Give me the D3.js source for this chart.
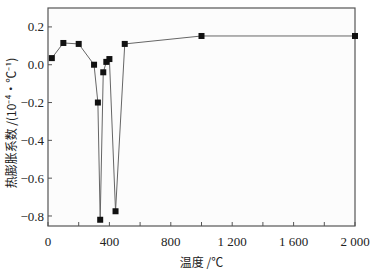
<!DOCTYPE html>
<html>
<head>
<meta charset="utf-8">
<script src="https://cdn.jsdelivr.net/npm/d3@7"></script>
<style>
  body { margin: 0; background: #fff; }
  text { fill: #222; }
</style>
</head>
<body>
<div id="chart"></div>
<script>
// temperature (℃) and thermal expansion coefficient (10^-4 / ℃)
let temps = [25, 100, 200, 300, 325, 340, 360, 380, 400, 440, 500, 1000, 2000]
let coeffs = [0.035, 0.115, 0.11, 0.0, -0.2, -0.82, -0.04, 0.015, 0.03, -0.775, 0.11, 0.152, 0.152]

let xTicks = [0, 200, 400, 600, 800, 1000, 1200, 1400, 1600, 1800, 2000]
let xLabelTicks = [0, 400, 800, 1200, 1600, 2000]
let xTickLabels = ['0', '400', '800', '1 200', '1 600', '2 000']
let yTicks = [0.2, 0.0, -0.2, -0.4, -0.6, -0.8]

let margin = {top: 8, right: 23, bottom: 48, left: 48},
  width = 378 - margin.left - margin.right,
  height = 274 - margin.top - margin.bottom

let svg = d3
  .select('#chart')
  .append('svg')
  .attr('width', 378)
  .attr('height', 274)

let g = svg
  .append('g')
  .attr('transform', 'translate(' + margin.left + ',' + margin.top + ')')

let x = d3.scaleLinear().domain([0, 2000]).range([0, width])
let y = d3.scaleLinear().domain([-0.853, 0.3]).range([height, 0])

g.append('rect')
  .attr('width', width)
  .attr('height', height)
  .attr('fill', '#fcfcfc')
  .attr('stroke', '#555')
  .attr('stroke-width', 1.2)

// x ticks (inward)
g.append('g')
  .selectAll('line')
  .data(xTicks)
  .enter()
  .append('line')
  .attr('x1', d => x(d))
  .attr('x2', d => x(d))
  .attr('y1', height)
  .attr('y2', height - 4)
  .attr('stroke', '#555')

g.append('g')
  .selectAll('text')
  .data(xLabelTicks)
  .enter()
  .append('text')
  .attr('x', d => x(d))
  .attr('y', height + 20)
  .attr('text-anchor', 'middle')
  .style('font-family', '"Liberation Serif", serif')
  .style('font-size', '13px')
  .text((d, i) => xTickLabels[i])

// y ticks (inward)
g.append('g')
  .selectAll('line')
  .data(yTicks)
  .enter()
  .append('line')
  .attr('x1', 0)
  .attr('x2', 4)
  .attr('y1', d => y(d))
  .attr('y2', d => y(d))
  .attr('stroke', '#555')

let fmt = d3.format('.1f')
g.append('g')
  .selectAll('text')
  .data(yTicks)
  .enter()
  .append('text')
  .attr('x', -4)
  .attr('y', d => y(d))
  .attr('dy', '0.35em')
  .attr('text-anchor', 'end')
  .style('font-family', '"Liberation Serif", serif')
  .style('font-size', '13px')
  .text(d => fmt(d))

// line
let pts = temps.map((t, i) => [t, coeffs[i]])
g.append('path')
  .datum(pts)
  .attr('fill', 'none')
  .attr('stroke', '#666')
  .attr('stroke-width', 1)
  .attr('d', d3.line().x(d => x(d[0])).y(d => y(d[1])))

g.append('g')
  .selectAll('rect')
  .data(pts)
  .enter()
  .append('rect')
  .attr('x', d => x(d[0]) - 3)
  .attr('y', d => y(d[1]) - 3)
  .attr('width', 6)
  .attr('height', 6)
  .attr('fill', '#111')

// axis titles
svg.append('text')
  .attr('x', margin.left + width / 2)
  .attr('y', 267)
  .attr('text-anchor', 'middle')
  .style('font-family', '"Noto Sans CJK SC", sans-serif')
  .style('font-size', '12px')
  .text('温度 /℃')

svg.append('text')
  .attr('transform', 'translate(16,' + (margin.top + height / 2 + 6) + ') rotate(-90)')
  .attr('text-anchor', 'middle')
  .style('font-family', '"Noto Sans CJK SC", sans-serif')
  .style('font-size', '12px')
  .text('热膨胀系数 /(10⁻⁴·℃⁻¹)')
</script>
</body>
</html>
